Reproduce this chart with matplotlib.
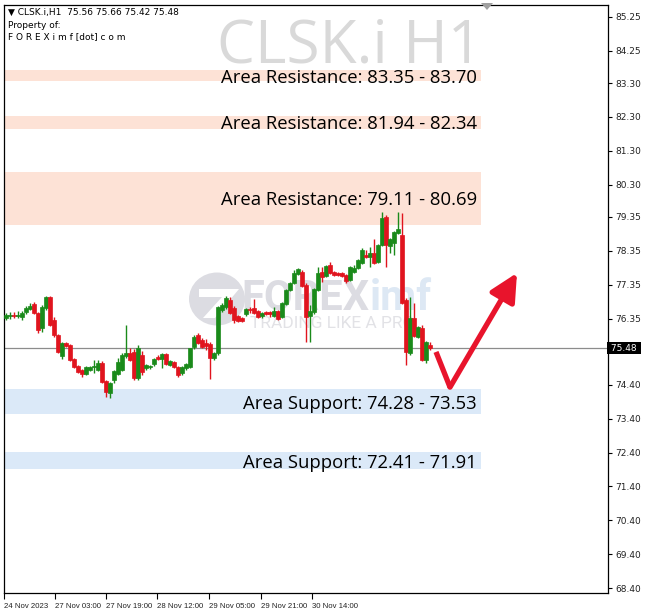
import matplotlib
matplotlib.use("Agg")
import matplotlib.pyplot as plt
from matplotlib.patches import Rectangle, Circle, Polygon

# OHLC, oldest first
opens = [76.37, 76.43, 76.45, 76.44, 76.40, 76.55, 76.63, 76.78, 76.52, 76.07,
         76.66, 76.99, 76.31, 75.87, 75.25, 75.63, 75.57, 75.16, 74.95, 74.84,
         74.72, 74.84, 74.92, 74.84, 75.04, 74.51, 74.16, 74.54, 74.72, 74.84,
         75.25, 75.34, 75.37, 74.60, 75.28, 74.90, 74.92, 75.01, 75.22, 75.16,
         75.31, 74.98, 75.07, 74.92, 74.75, 74.89, 74.92, 75.51, 75.87, 75.72,
         75.63, 75.60, 75.19, 75.34, 76.60, 76.69, 76.90, 76.66, 76.43, 76.37,
         76.49, 76.63, 76.66, 76.57, 76.43, 76.55, 76.55, 76.43, 76.57, 76.40,
         76.78, 77.20, 77.40, 77.67, 77.73, 77.34, 76.43, 76.55, 77.20, 77.73,
         77.61, 77.93, 77.73, 77.70, 77.70, 77.64, 77.49, 77.73, 77.84, 77.99,
         78.23, 78.17, 78.29, 78.02, 78.52, 79.35, 78.49, 78.58, 78.88, 78.82,
         76.90, 75.34, 76.37, 75.81, 76.07, 75.13, 75.56]
highs = [76.52, 76.55, 76.55, 76.57, 76.57, 76.72, 76.81, 76.84, 76.55, 76.75,
         77.02, 77.02, 76.40, 75.90, 75.66, 75.66, 75.60, 75.19, 74.98, 74.87,
         74.95, 74.95, 75.13, 75.13, 75.10, 74.54, 74.48, 74.84, 75.19, 75.34,
         76.16, 75.48, 75.45, 75.57, 75.40, 75.00, 74.98, 75.19, 75.28, 75.34,
         75.34, 75.13, 75.10, 74.95, 74.95, 75.04, 75.50, 75.87, 75.93, 75.78,
         75.75, 75.66, 75.37, 76.72, 76.81, 77.02, 76.99, 76.72, 76.46, 76.40,
         76.66, 76.69, 76.93, 76.60, 76.55, 76.57, 76.57, 76.69, 76.60, 76.84,
         77.23, 77.43, 77.79, 77.84, 77.79, 77.40, 76.75, 77.26, 77.87, 77.87,
         77.93, 78.02, 77.76, 77.73, 77.73, 77.67, 77.90, 77.93, 78.11, 78.44,
         78.38, 78.47, 78.70, 78.55, 79.50, 79.41, 78.73, 78.94, 79.50, 79.47,
         76.96, 76.99, 76.81, 76.13, 76.16, 75.69, 75.66]
lows = [76.31, 76.34, 76.36, 76.37, 76.31, 76.49, 76.60, 76.49, 75.93, 75.96,
        76.60, 76.13, 75.81, 75.34, 75.16, 75.51, 75.10, 74.90, 74.75, 74.63,
        74.70, 74.80, 74.75, 74.80, 74.45, 74.04, 74.01, 74.45, 74.69, 74.80,
        75.19, 75.10, 74.54, 74.54, 74.69, 74.85, 74.87, 74.95, 75.13, 74.89,
        74.98, 74.95, 74.90, 74.63, 74.70, 74.85, 74.89, 75.45, 75.60, 75.48,
        75.43, 74.57, 75.13, 75.28, 76.55, 76.63, 76.49, 76.22, 76.25, 76.25,
        76.43, 76.52, 76.49, 76.37, 76.37, 76.46, 76.40, 76.40, 76.31, 76.37,
        76.75, 77.17, 77.37, 77.64, 77.28, 75.66, 75.66, 76.49, 77.17, 77.43,
        77.58, 77.67, 77.61, 77.61, 77.58, 77.40, 77.46, 77.70, 77.81, 77.96,
        78.14, 77.87, 77.96, 77.99, 78.49, 77.87, 78.29, 78.23, 78.85, 76.78,
        74.98, 75.28, 75.81, 75.78, 75.10, 75.04, 75.42]
closes = [76.46, 76.45, 76.44, 76.46, 76.52, 76.66, 76.72, 76.52, 76.02, 76.69,
          76.99, 76.16, 75.87, 75.37, 75.63, 75.54, 75.13, 74.92, 74.78, 74.72,
          74.92, 74.92, 74.94, 75.04, 74.48, 74.19, 74.45, 74.80, 75.07, 75.28,
          75.34, 75.13, 74.60, 75.48, 74.78, 74.98, 74.94, 75.16, 75.16, 75.31,
          75.01, 75.10, 74.92, 74.69, 74.92, 75.01, 75.48, 75.81, 75.63, 75.51,
          75.54, 75.19, 75.34, 76.69, 76.75, 76.96, 76.52, 76.31, 76.28, 76.28,
          76.63, 76.61, 76.52, 76.40, 76.52, 76.49, 76.49, 76.57, 76.34, 76.81,
          77.20, 77.40, 77.70, 77.81, 77.31, 76.40, 76.57, 77.23, 77.70, 77.58,
          77.90, 77.70, 77.64, 77.64, 77.61, 77.46, 77.87, 77.84, 78.08, 78.38,
          78.17, 78.29, 77.99, 78.52, 79.32, 78.52, 78.70, 78.91, 78.99, 76.81,
          75.37, 76.37, 75.84, 76.10, 75.13, 75.66, 75.48]

last_price = 75.48
header = "\u25bc CLSK.i,H1  75.56 75.66 75.42 75.48"

resistance = [(83.35, 83.70), (81.94, 82.34), (79.11, 80.69)]
support = [(74.28, 73.53), (72.41, 71.91)]

price_ticks = [85.25, 84.25, 83.30, 82.30, 81.30, 80.30, 79.35, 78.35, 77.35,
               76.35, 74.40, 73.40, 72.40, 71.40, 70.40, 69.40, 68.40]
time_ticks = [-0.5, 12.25, 25, 37.75, 50.75, 63.75, 76.5]
time_labels = ["24 Nov 2023", "27 Nov 03:00", "27 Nov 19:00", "28 Nov 12:00",
               "29 Nov 05:00", "29 Nov 21:00", "30 Nov 14:00"]

# hand-drawn check-mark arrow (bar index, price)
arrow_x = [107.5, 111.0, 127.75]
arrow_y = [75.37, 74.33, 77.70]

GREEN = "#1a8a1a"
RED = "#e0141e"
ARROW = "#e8142c"
W, H = 651, 616

fig = plt.figure(figsize=(W / 100, H / 100), dpi=100)
fig.patch.set_facecolor("white")

# logo watermark (drawn under the chart)
fig.patches.append(Circle((217 / W, 1 - 299 / H), 28 / W, transform=fig.transFigure,
                          facecolor="#dcdce2", edgecolor="none", zorder=-2))
fig.patches.append(Polygon([(199 / W, 1 - 289 / H), (239 / W, 1 - 289 / H),
                            (215 / W, 1 - 318 / H), (203 / W, 1 - 318 / H),
                            (222 / W, 1 - 297 / H), (199 / W, 1 - 297 / H)],
                           closed=True, transform=fig.transFigure,
                           facecolor="white", edgecolor="none", zorder=-2))
fig.text(241 / W, 1 - 298 / H, "FOREX", fontsize=30, fontweight="bold",
         color="#dcdce2", family="Roboto", va="center", ha="left", zorder=-2)
fig.text(370 / W, 1 - 298 / H, "imf", fontsize=30, fontweight="bold",
         color="#dde8f4", family="Roboto", va="center", ha="left", zorder=-2)
fig.text(250 / W, 1 - 324 / H, "TRADING LIKE A PRO", fontsize=12.5,
         color="#e2e2e6", family="Roboto", va="center", ha="left", zorder=-2)

ax = fig.add_axes([4 / W, 23 / H, 604 / W, 588 / H])
ax.set_xlim(-0.5, 150.5)
ax.set_ylim(68.258, 85.604)
ax.patch.set_alpha(0)

band_end = 118.75
for lo, hi in resistance:
    ax.add_patch(Rectangle((-0.5, lo), band_end + 0.5, hi - lo,
                           facecolor="#fde2d6", edgecolor="none", zorder=1))
    ax.text(band_end - 1.0, (lo + hi) / 2 - 0.06,
            "Area Resistance: %.2f - %.2f" % (lo, hi),
            ha="right", va="center", fontsize=13.3, family="Open Sans", zorder=5)
for a, b in support:
    lo, hi = min(a, b), max(a, b)
    ax.add_patch(Rectangle((-0.5, lo), band_end + 0.5, hi - lo,
                           facecolor="#dbe9f8", edgecolor="none", zorder=1))
    ax.text(band_end - 1.0, (lo + hi) / 2 - 0.06,
            "Area Support: %.2f - %.2f" % (a, b),
            ha="right", va="center", fontsize=13.3, family="Open Sans", zorder=5)

# watermark symbol
ax.text(band_end + 0.3, 83.90, "CLSK.i H1", ha="right", va="baseline",
        fontsize=43.5, color="#d9d9d9", family="Open Sans", zorder=0)

# candles
for i in range(len(opens)):
    o, h, l, c = opens[i], highs[i], lows[i], closes[i]
    col = GREEN if c >= o else RED
    ax.vlines(i, l, h, color=col, lw=1.0, zorder=3)
    body = max(abs(c - o), 0.02)
    ax.add_patch(Rectangle((i - 0.38, min(o, c)), 0.76, body,
                           facecolor=col, edgecolor=col, lw=0.5, zorder=3))

ax.axhline(last_price, color="#8c8c8c", lw=0.9, zorder=2)

ax.plot(arrow_x[:2], arrow_y[:2], color=ARROW, lw=3.8,
        solid_capstyle="butt", zorder=6)
ax.annotate("", xy=(arrow_x[2], arrow_y[2]), xytext=(arrow_x[1], arrow_y[1]),
            arrowprops=dict(arrowstyle="-|>,head_length=1.2,head_width=0.6",
                            color=ARROW, lw=3.8, mutation_scale=14,
                            shrinkA=0, shrinkB=0), zorder=6)

# axes styling
for s in ax.spines.values():
    s.set_linewidth(0.9)
    s.set_color("black")
ax.yaxis.tick_right()
ax.set_yticks(price_ticks)
ax.set_yticklabels(["%.2f" % v for v in price_ticks])
ax.tick_params(axis="y", length=3, width=0.8, pad=2, labelsize=6.5,
               labelcolor="#222222")
ax.set_xticks(time_ticks)
ax.set_xticklabels(time_labels, ha="left", family="Liberation Sans")
ax.tick_params(axis="x", length=4, width=0.8, pad=3, labelsize=5.6,
               labelcolor="#222222")

ax.text(150.5, last_price, " %.2f " % last_price, transform=ax.transData,
        ha="left", va="center", fontsize=6.5, color="white",
        bbox=dict(boxstyle="square,pad=0.15", facecolor="black", edgecolor="none"),
        clip_on=False, zorder=7)

fig.text(8 / W, 1 - 12 / H, header, fontsize=6.5, va="center", ha="left")
fig.text(8 / W, 1 - 25 / H, "Property of:", fontsize=6.5, va="center", ha="left")
fig.text(8 / W, 1 - 37 / H, "F O R E X i m f [dot] c o m", fontsize=6.5,
         va="center", ha="left")

# little shift marker at the top
fig.patches.append(Polygon([(481 / W, 1 - 3 / H), (493 / W, 1 - 3 / H),
                            (487 / W, 1 - 10 / H)], closed=True,
                           transform=fig.transFigure, facecolor="#a0a0a0",
                           edgecolor="none"))

fig.savefig("out.png", dpi=100)
